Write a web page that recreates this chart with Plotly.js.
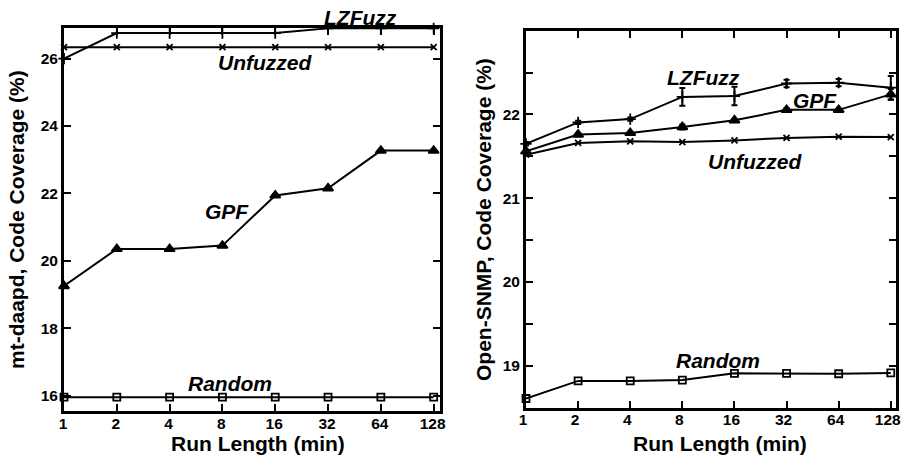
<!DOCTYPE html>
<html><head><meta charset="utf-8">
<script src="https://cdn.plot.ly/plotly-3.0.1.min.js"></script>
<style>html,body{margin:0;padding:0;background:#fff}</style>
</head><body>
<div id="chart" style="width:901px;height:458px"></div>
<script>
// Run lengths (minutes)
const runLengths = [1, 2, 4, 8, 16, 32, 64, 128];
const xTickText = ['1','2','4','8','16','32','64','128'];

// mt-daapd code coverage (%)
const mtLZFuzz   = [26.0, 26.76, 26.76, 26.76, 26.76, 26.9, 26.9, 26.9];
const mtUnfuzzed = [26.34, 26.34, 26.34, 26.34, 26.34, 26.34, 26.34, 26.34];
const mtGPF      = [19.25, 20.35, 20.35, 20.45, 21.94, 22.15, 23.27, 23.27];
const mtRandom   = [15.95, 15.95, 15.95, 15.95, 15.95, 15.95, 15.95, 15.95];

// Open-SNMP code coverage (%)
const snLZFuzz    = [21.65, 21.905, 21.945, 22.21, 22.22, 22.37, 22.38, 22.32];
const snLZFuzzErr = [0.02, 0.02, 0.02, 0.105, 0.11, 0.045, 0.044, 0.14];
const snGPF       = [21.56, 21.76, 21.78, 21.85, 21.93, 22.055, 22.055, 22.24];
const snGPFErr    = [0.02, 0.02, 0.01, 0.03, 0.01, 0.02, 0.01, 0.063];
const snUnfuzzed  = [21.52, 21.66, 21.68, 21.67, 21.69, 21.72, 21.735, 21.73];
const snRandom    = [18.61, 18.82, 18.82, 18.83, 18.91, 18.91, 18.905, 18.915];

const leftYTicks = [16, 18, 20, 22, 24, 26];
const rightYTicks = [19, 19.5, 20, 20.5, 21, 21.5, 22, 22.5];
const rightYTickText = ['19', '', '20', '', '21', '', '22', ''];

const FONT = 'Liberation Sans, Arial, Helvetica, sans-serif';
const W = 901, H = 458;
const px = x => x / W, py = y => 1 - y / H;

function line(x, y, xa, ya, sym, size, err) {
  const t = {
    x: x, y: y, xaxis: xa, yaxis: ya, type: 'scatter', mode: 'lines+markers',
    line: {color: '#000', width: 2},
    marker: {symbol: sym, size: size, color: '#000', line: {color: '#000', width: 1.8}},
    cliponaxis: false, showlegend: false, hoverinfo: 'skip'
  };
  if (err) t.error_y = {type: 'data', array: err, visible: true, color: '#000', thickness: 2, width: 3};
  return t;
}

const data = [
  line(runLengths, mtLZFuzz, 'x', 'y', 'cross-thin', 8),
  line(runLengths, mtUnfuzzed, 'x', 'y', 'x-thin', 6),
  line(runLengths, mtGPF, 'x', 'y', 'triangle-up', 9),
  line(runLengths, mtRandom, 'x', 'y', 'square-open', 7),
  line(runLengths, snLZFuzz, 'x2', 'y2', 'cross-thin', 8, snLZFuzzErr),
  line(runLengths, snGPF, 'x2', 'y2', 'triangle-up', 9, snGPFErr),
  line(runLengths, snUnfuzzed, 'x2', 'y2', 'x-thin', 6),
  line(runLengths, snRandom, 'x2', 'y2', 'square-open', 7)
];

const tickFont = {family: FONT, size: 15.5, color: '#000', weight: 'bold'};
function xaxis(domain, range, anchor, shift) {
  return {
    domain: domain, anchor: anchor, type: 'log', range: range,
    tickvals: runLengths, ticktext: xTickText, ticks: 'inside', ticklen: 7, tickwidth: 2,
    tickcolor: '#000', showline: true, linecolor: '#000', linewidth: 3, mirror: 'ticks',
    showgrid: false, zeroline: false, tickfont: tickFont, fixedrange: true,
    ticklabeloverflow: 'allow', ticklabelstandoff: -4, ticklabelshift: shift
  };
}
function yaxis(domain, range, anchor, tv, tt) {
  const a = {
    domain: domain, anchor: anchor, range: range,
    tickvals: tv, ticks: 'inside', ticklen: 7, tickwidth: 2,
    tickcolor: '#000', showline: true, linecolor: '#000', linewidth: 3, mirror: 'ticks',
    showgrid: false, zeroline: false, tickfont: tickFont, fixedrange: true
  };
  if (tt) a.ticktext = tt;
  return a;
}

const labFont = {family: FONT, size: 21, color: '#000', weight: 'bold', style: 'italic'};
const titFont = {family: FONT, size: 21, color: '#000', weight: 'bold'};
function lab(text, x, y) {
  return {text: text, xref: 'paper', yref: 'paper', x: px(x), y: py(y),
          xanchor: 'center', yanchor: 'middle', showarrow: false, font: labFont};
}
function tit(text, x, y, ang) {
  return {text: text, xref: 'paper', yref: 'paper', x: px(x), y: py(y), textangle: ang || 0,
          xanchor: 'center', yanchor: 'middle', showarrow: false, font: titFont};
}

const layout = {
  width: W, height: H, margin: {l: 0, r: 0, t: 0, b: 0},
  paper_bgcolor: '#fff', plot_bgcolor: '#fff',
  xaxis: xaxis([px(64), px(440)], [0, 7.12 * Math.log10(2)], 'y', -1),
  yaxis: yaxis([1 - 411 / H, 1 - 28 / H], [15.54, 26.91], 'x', leftYTicks),
  xaxis2: xaxis([px(526), px(896)], [0, 7.1 * Math.log10(2)], 'y2', -3),
  yaxis2: yaxis([1 - 407.7 / H, 1 - 30.7 / H], [18.5, 23.0], 'x2', rightYTicks, rightYTickText),
  annotations: [
    lab('LZFuzz', 360, 18), lab('Unfuzzed', 265, 63), lab('GPF', 227, 211), lab('Random', 230, 383),
    lab('LZFuzz', 703, 77), lab('GPF', 815, 100), lab('Unfuzzed', 755, 161), lab('Random', 718, 360),
    tit('Run Length (min)', 258, 443), tit('Run Length (min)', 720, 443),
    tit('mt-daapd, Code Coverage (%)', 16, 220, -90),
    tit('Open-SNMP, Code Coverage (%)', 483, 220, -90)
  ]
};

Plotly.newPlot('chart', data, layout, {displayModeBar: false, staticPlot: true});
</script>
</body></html>
